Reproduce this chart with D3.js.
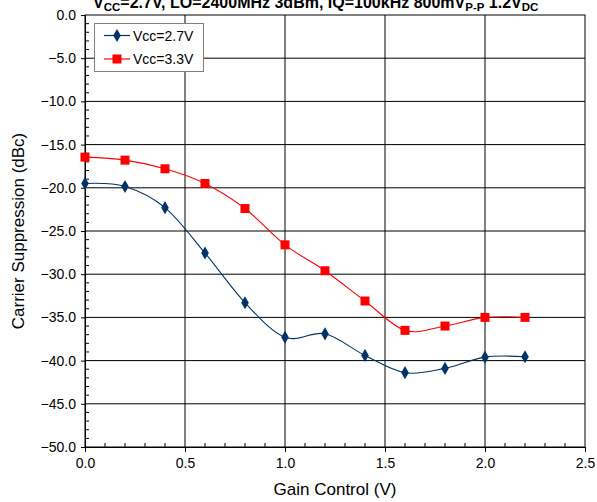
<!DOCTYPE html>
<html><head><meta charset="utf-8">
<script src="https://cdn.jsdelivr.net/npm/d3@7"></script>
<style>body{margin:0;background:#fff}svg{display:block;font-family:Arial,"Liberation Sans",sans-serif}</style>
</head><body><svg id="c" width="597" height="502"></svg>
<script>
const gain = [0.0,0.2,0.4,0.6,0.8,1.0,1.2,1.4,1.6,1.8,2.0,2.2];
const vcc27 = [-19.5,-19.85,-22.3,-27.55,-33.3,-37.3,-36.9,-39.4,-41.4,-40.9,-39.6,-39.55];
const vcc33 = [-16.45,-16.8,-17.8,-19.5,-22.4,-26.6,-29.6,-33.1,-36.5,-36.0,-35.0,-35.0];
const xTicks = [0,0.5,1.0,1.5,2.0,2.5];
const yTicks = [0,-5,-10,-15,-20,-25,-30,-35,-40,-45,-50];
const seriesNames = ["Vcc=2.7V","Vcc=3.3V"];

const svg = d3.select("#c");
const L=85,R=585,T=15,B=447;
const x = d3.scaleLinear().domain([0,2.5]).range([L,R]);
const y = d3.scaleLinear().domain([-50,0]).range([B,T]);

// gridlines
const g = svg.append("g");
g.selectAll(".hg").data(yTicks.filter(d=>d!==0&&d!==-50)).join("line")
  .attr("x1",L).attr("x2",R).attr("y1",d=>y(d)).attr("y2",d=>y(d))
  .attr("stroke","#000").attr("stroke-width",1);
g.selectAll(".vg").data(xTicks.filter(d=>d!==0&&d!==2.5)).join("line")
  .attr("y1",T).attr("y2",B).attr("x1",d=>x(d)).attr("x2",d=>x(d))
  .attr("stroke","#000").attr("stroke-width",1);
svg.append("rect").attr("x",L).attr("y",T).attr("width",R-L).attr("height",B-T)
  .attr("fill","none").attr("stroke","#000").attr("stroke-width",1);

// axes
const yAxis = d3.axisLeft(y).tickValues(yTicks).tickFormat(d3.format(".1f")).tickSize(4).tickPadding(5);
const ya = svg.append("g").attr("transform",`translate(${L},0)`).call(yAxis);
const xAxis = d3.axisBottom(x).tickValues(xTicks).tickFormat(d3.format(".1f")).tickSize(5).tickPadding(6);
const xa = svg.append("g").attr("transform",`translate(0,${B})`).call(xAxis);
[ya,xa].forEach(a=>{a.select(".domain").attr("stroke","#000");
  a.selectAll("text").attr("font-size",14).attr("font-family","Arial, 'Liberation Sans', sans-serif").attr("fill","#000");
  a.selectAll("line").attr("stroke","#000");});
// minor ticks (inside)
svg.append("g").selectAll("line").data(d3.range(-49,0,1).filter(v=>v%5!==0)).join("line")
  .attr("x1",L).attr("x2",L+4).attr("y1",d=>y(d)).attr("y2",d=>y(d)).attr("stroke","#000");
svg.append("g").selectAll("line").data(d3.range(1,25,1).filter(v=>v%5!==0).map(v=>v/10)).join("line")
  .attr("x1",d=>x(d)).attr("x2",d=>x(d)).attr("y1",B).attr("y2",B-4).attr("stroke","#000");

// titles
svg.append("text").attr("x",(L+R)/2).attr("y",495).attr("text-anchor","middle")
  .attr("font-size",17).text("Gain Control (V)");
svg.append("text").attr("transform",`translate(24,${(T+B)/2}) rotate(-90)`).attr("text-anchor","middle")
  .attr("font-size",17).text("Carrier Suppression (dBc)");
const t = svg.append("text").attr("x",93).attr("y",8).attr("font-size",16).attr("font-weight","bold");
const parts=[["V",0],["CC",1],["=2.7V, LO=2400MHz 3dBm, IQ=100kHz 800mV",0],["P-P",1],[" 1.2V",0],["DC",1]];
parts.forEach(([s,sub],i)=>{
  const ts=t.append("tspan").text(s);
  if(sub){ts.attr("font-size",11.5).attr("dy",3);}
  else if(i>0){ts.attr("dy",-3);}
});

// lines
const line = d3.line().x((d,i)=>x(gain[i])).y(d=>y(d)).curve(d3.curveCardinal.tension(0));
const cols=["#003366","#ff0000"];
svg.append("path").datum(vcc27).attr("d",line).attr("fill","none").attr("stroke",cols[0]).attr("stroke-width",1.1);
svg.append("path").datum(vcc33).attr("d",line).attr("fill","none").attr("stroke",cols[1]).attr("stroke-width",1.1);
const dia = d3.symbol().type(d3.symbolDiamond).size(50);
svg.append("g").selectAll("path").data(vcc27).join("path")
  .attr("transform",(d,i)=>`translate(${x(gain[i])},${y(d)})`).attr("d",dia).attr("fill",cols[0]);
svg.append("g").selectAll("rect").data(vcc33).join("rect")
  .attr("x",(d,i)=>x(gain[i])-4.5).attr("y",d=>y(d)-4.5).attr("width",9).attr("height",9).attr("fill",cols[1]);

// legend
const lg = svg.append("g");
lg.append("rect").attr("x",94.5).attr("y",23.5).attr("width",109).attr("height",48)
  .attr("fill","#fff").attr("stroke","#808080");
seriesNames.forEach((n,i)=>{
  const yy=35.5+i*23.5;
  lg.append("line").attr("x1",104).attr("x2",130).attr("y1",yy).attr("y2",yy).attr("stroke",cols[i]).attr("stroke-width",1.2);
  if(i===0) lg.append("path").attr("transform",`translate(117,${yy})`).attr("d",dia).attr("fill",cols[0]);
  else lg.append("rect").attr("x",112.5).attr("y",yy-4.5).attr("width",9).attr("height",9).attr("fill",cols[1]);
  lg.append("text").attr("x",133).attr("y",yy+5).attr("font-size",14).text(n);
});
</script></body></html>
